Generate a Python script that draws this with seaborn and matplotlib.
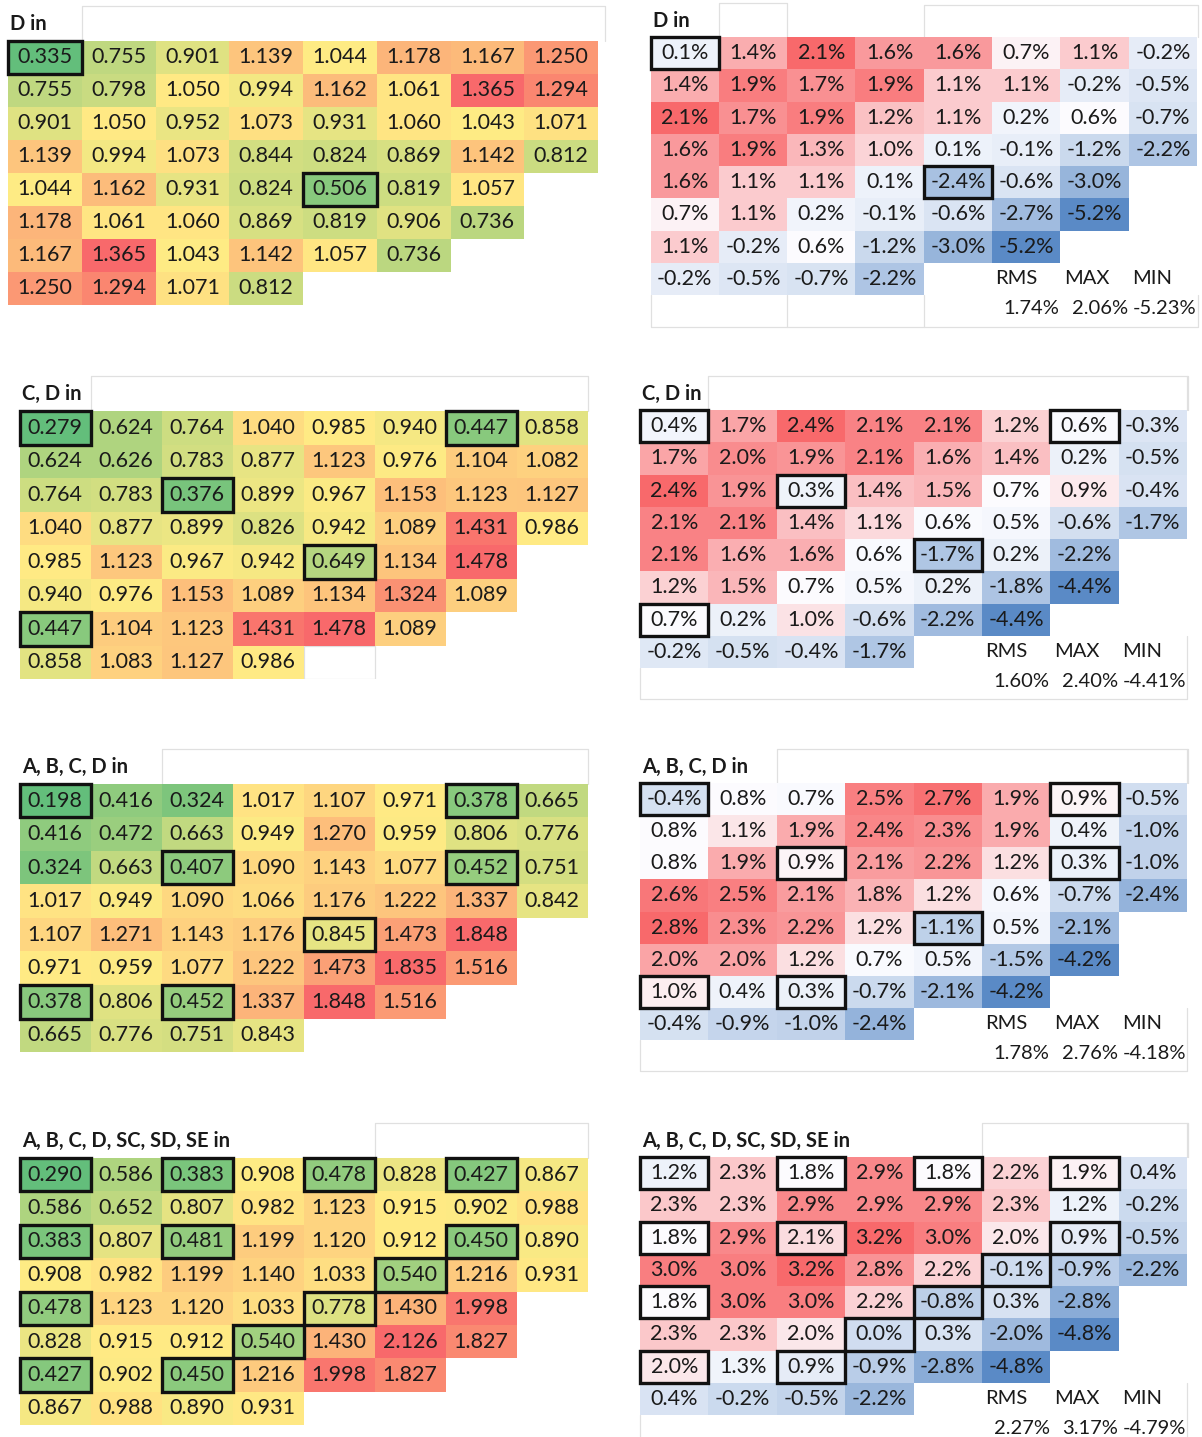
import numpy as np
import matplotlib
matplotlib.use("Agg")
import matplotlib.pyplot as plt
from matplotlib.colors import LinearSegmentedColormap, TwoSlopeNorm
from matplotlib.patches import Rectangle
import seaborn as sns

sns.set_theme(style="white")
plt.rcParams['font.family'] = ['Lato', 'DejaVu Sans']

# ---------------------------------------------------------------------------
# Relative power maps (left column) - one list per row, lower-right corner empty
# ---------------------------------------------------------------------------
power_d = [
    [0.335, 0.755, 0.901, 1.139, 1.044, 1.178, 1.167, 1.250],
    [0.755, 0.798, 1.050, 0.994, 1.162, 1.061, 1.365, 1.294],
    [0.901, 1.050, 0.952, 1.073, 0.931, 1.060, 1.043, 1.071],
    [1.139, 0.994, 1.073, 0.844, 0.824, 0.869, 1.142, 0.812],
    [1.044, 1.162, 0.931, 0.824, 0.506, 0.819, 1.057],
    [1.178, 1.061, 1.060, 0.869, 0.819, 0.906, 0.736],
    [1.167, 1.365, 1.043, 1.142, 1.057, 0.736],
    [1.250, 1.294, 1.071, 0.812],
]
power_cd = [
    [0.279, 0.624, 0.764, 1.040, 0.985, 0.940, 0.447, 0.858],
    [0.624, 0.626, 0.783, 0.877, 1.123, 0.976, 1.104, 1.082],
    [0.764, 0.783, 0.376, 0.899, 0.967, 1.153, 1.123, 1.127],
    [1.040, 0.877, 0.899, 0.826, 0.942, 1.089, 1.431, 0.986],
    [0.985, 1.123, 0.967, 0.942, 0.649, 1.134, 1.478],
    [0.940, 0.976, 1.153, 1.089, 1.134, 1.324, 1.089],
    [0.447, 1.104, 1.123, 1.431, 1.478, 1.089],
    [0.858, 1.083, 1.127, 0.986],
]
power_abcd = [
    [0.198, 0.416, 0.324, 1.017, 1.107, 0.971, 0.378, 0.665],
    [0.416, 0.472, 0.663, 0.949, 1.270, 0.959, 0.806, 0.776],
    [0.324, 0.663, 0.407, 1.090, 1.143, 1.077, 0.452, 0.751],
    [1.017, 0.949, 1.090, 1.066, 1.176, 1.222, 1.337, 0.842],
    [1.107, 1.271, 1.143, 1.176, 0.845, 1.473, 1.848],
    [0.971, 0.959, 1.077, 1.222, 1.473, 1.835, 1.516],
    [0.378, 0.806, 0.452, 1.337, 1.848, 1.516],
    [0.665, 0.776, 0.751, 0.843],
]
power_all = [
    [0.290, 0.586, 0.383, 0.908, 0.478, 0.828, 0.427, 0.867],
    [0.586, 0.652, 0.807, 0.982, 1.123, 0.915, 0.902, 0.988],
    [0.383, 0.807, 0.481, 1.199, 1.120, 0.912, 0.450, 0.890],
    [0.908, 0.982, 1.199, 1.140, 1.033, 0.540, 1.216, 0.931],
    [0.478, 1.123, 1.120, 1.033, 0.778, 1.430, 1.998],
    [0.828, 0.915, 0.912, 0.540, 1.430, 2.126, 1.827],
    [0.427, 0.902, 0.450, 1.216, 1.998, 1.827],
    [0.867, 0.988, 0.890, 0.931],
]

# ---------------------------------------------------------------------------
# Relative differences in percent (right column)
# ---------------------------------------------------------------------------
diff_d = [
    [0.1, 1.4, 2.1, 1.6, 1.6, 0.7, 1.1, -0.2],
    [1.4, 1.9, 1.7, 1.9, 1.1, 1.1, -0.2, -0.5],
    [2.1, 1.7, 1.9, 1.2, 1.1, 0.2, 0.6, -0.7],
    [1.6, 1.9, 1.3, 1.0, 0.1, -0.1, -1.2, -2.2],
    [1.6, 1.1, 1.1, 0.1, -2.4, -0.6, -3.0],
    [0.7, 1.1, 0.2, -0.1, -0.6, -2.7, -5.2],
    [1.1, -0.2, 0.6, -1.2, -3.0, -5.2],
    [-0.2, -0.5, -0.7, -2.2],
]
diff_cd = [
    [0.4, 1.7, 2.4, 2.1, 2.1, 1.2, 0.6, -0.3],
    [1.7, 2.0, 1.9, 2.1, 1.6, 1.4, 0.2, -0.5],
    [2.4, 1.9, 0.3, 1.4, 1.5, 0.7, 0.9, -0.4],
    [2.1, 2.1, 1.4, 1.1, 0.6, 0.5, -0.6, -1.7],
    [2.1, 1.6, 1.6, 0.6, -1.7, 0.2, -2.2],
    [1.2, 1.5, 0.7, 0.5, 0.2, -1.8, -4.4],
    [0.7, 0.2, 1.0, -0.6, -2.2, -4.4],
    [-0.2, -0.5, -0.4, -1.7],
]
diff_abcd = [
    [-0.4, 0.8, 0.7, 2.5, 2.7, 1.9, 0.9, -0.5],
    [0.8, 1.1, 1.9, 2.4, 2.3, 1.9, 0.4, -1.0],
    [0.8, 1.9, 0.9, 2.1, 2.2, 1.2, 0.3, -1.0],
    [2.6, 2.5, 2.1, 1.8, 1.2, 0.6, -0.7, -2.4],
    [2.8, 2.3, 2.2, 1.2, -1.1, 0.5, -2.1],
    [2.0, 2.0, 1.2, 0.7, 0.5, -1.5, -4.2],
    [1.0, 0.4, 0.3, -0.7, -2.1, -4.2],
    [-0.4, -0.9, -1.0, -2.4],
]
diff_all = [
    [1.2, 2.3, 1.8, 2.9, 1.8, 2.2, 1.9, 0.4],
    [2.3, 2.3, 2.9, 2.9, 2.9, 2.3, 1.2, -0.2],
    [1.8, 2.9, 2.1, 3.2, 3.0, 2.0, 0.9, -0.5],
    [3.0, 3.0, 3.2, 2.8, 2.2, -0.1, -0.9, -2.2],
    [1.8, 3.0, 3.0, 2.2, -0.8, 0.3, -2.8],
    [2.3, 2.3, 2.0, 0.0, 0.3, -2.0, -4.8],
    [2.0, 1.3, 0.9, -0.9, -2.8, -4.8],
    [0.4, -0.2, -0.5, -2.2],
]

# Summary statistics for each difference map: RMS, MAX, MIN (percent)
stat_names = ["RMS", "MAX", "MIN"]
stats_d = [1.74, 2.06, -5.23]
stats_cd = [1.60, 2.40, -4.41]
stats_abcd = [1.78, 2.76, -4.18]
stats_all = [2.27, 3.17, -4.79]

# Panel titles
titles = ["D in", "C, D in", "A, B, C, D in", "A, B, C, D, SC, SD, SE in"]

# Highlighted (row, col) positions for each configuration
marked_d = [(0, 0), (4, 4)]
marked_cd = [(0, 0), (0, 6), (2, 2), (4, 4), (6, 0)]
marked_abcd = [(0, 0), (0, 6), (2, 2), (2, 6), (4, 4), (6, 0), (6, 2)]
marked_all = [(0, 0), (0, 2), (0, 4), (0, 6), (2, 0), (2, 2), (2, 6), (3, 5),
              (4, 0), (4, 4), (5, 3), (6, 0), (6, 2)]

# ---------------------------------------------------------------------------
W, H = 1202, 1437
fig = plt.figure(figsize=(W / 100, H / 100), dpi=100)
fig.patch.set_facecolor("white")

cmap_power = LinearSegmentedColormap.from_list("gyr", ["#63BE7B", "#FFEB84", "#F8696B"])
cmap_diff = LinearSegmentedColormap.from_list("bwr_xl", ["#5A8AC6", "#FCFCFF", "#F8696B"])

TEXT = "#1A1A1A"
FAINT = "#E0E0E0"
CELL_FS = 15.5
STAT_FS = 14.5
TITLE_FS = 14.5


def to_matrix(rows):
    m = np.full((8, 8), np.nan)
    for i, r in enumerate(rows):
        m[i, :len(r)] = r
    return m


def faint(ax, xs, ys):
    ax.plot(xs, ys, color=FAINT, lw=0.9, clip_on=False, zorder=0.5)


def draw_panel(box, rows, kind, title, marked, stats=None, header=(1, 8),
               extra=()):
    x0, y0, x1, y1 = box
    ax = fig.add_axes([x0 / W, 1 - y1 / H, (x1 - x0) / W, (y1 - y0) / H])
    data = to_matrix(rows)
    mask = np.isnan(data)
    vals = data[~mask]
    norm = TwoSlopeNorm(vmin=vals.min(), vcenter=np.median(vals), vmax=vals.max())
    if kind == "power":
        cmap = cmap_power
        labels = np.array([[("" if np.isnan(v) else f"{v:.3f}") for v in r] for r in data])
    else:
        cmap = cmap_diff
        labels = np.array([[("" if np.isnan(v) else f"{v:.1f}%") for v in r] for r in data])
    sns.heatmap(data, mask=mask, cmap=cmap, norm=norm, annot=labels, fmt="",
                cbar=False, xticklabels=False, yticklabels=False, linewidths=0,
                annot_kws=dict(color=TEXT, fontsize=CELL_FS), ax=ax)
    ax.set_xlim(0, 8)
    ax.set_ylim(8, 0)
    ax.set_axis_off()

    # faint sheet borders around the header row
    hs, he = header
    faint(ax, [hs, hs, he, he], [0, -1.05, -1.05, 0])
    for seg in extra:
        faint(ax, *seg)

    ax.text(0.03, -0.5, title, ha="left", va="center", fontsize=TITLE_FS,
            fontweight="bold", color=TEXT, clip_on=False)

    for (r, c) in marked:
        ax.add_patch(Rectangle((c, r), 1, 1, fill=False, ec="#111111", lw=2.4,
                               clip_on=False, zorder=5))

    if stats is not None:
        for k, (name, val) in enumerate(zip(stat_names, stats)):
            ax.text(5 + k + 0.05, 7.5, name, ha="left", va="center",
                    fontsize=STAT_FS, color=TEXT, clip_on=False)
            ax.text(6 + k - 0.01, 8.42, f"{val:.2f}%", ha="right", va="center",
                    fontsize=STAT_FS, color=TEXT, clip_on=False)
    return ax


bottom_frame = [([0, 0, 8, 8], [8, 8.95, 8.95, 7]), ([8, 8], [-1.05, 0])]

# Left column: relative power
draw_panel((8, 40.5, 598, 304.5), power_d, "power", titles[0], marked_d, header=(1, 8.1))
ax3 = draw_panel((19.5, 411, 587.5, 679), power_cd, "power", titles[1], marked_cd, header=(1, 8))
ax3.add_patch(Rectangle((4, 7), 1, 1, fill=False, ec=FAINT, lw=0.9, zorder=0.5))
draw_panel((19.5, 784, 587.5, 1052), power_abcd, "power", titles[2], marked_abcd, header=(2, 8))
draw_panel((19.5, 1158, 587.5, 1425), power_all, "power", titles[3], marked_all, header=(5, 8))

# Right column: differences with summary statistics
draw_panel((650.5, 37, 1197, 295), diff_d, "diff", titles[0], marked_d, stats_d,
           header=(1, 2),
           extra=[([4, 4, 8.02, 8.02], [0, -1.0, -1.0, 0]),
                  ([0, 0, 8.02, 8.02], [8, 9.0, 9.0, 8]),
                  ([2, 2], [8, 9.0]), ([4, 4], [8, 9.0])])
draw_panel((640, 410, 1187, 668), diff_cd, "diff", titles[1], marked_cd, stats_cd,
           header=(1, 8.02), extra=bottom_frame)
draw_panel((640, 783, 1187, 1040), diff_abcd, "diff", titles[2], marked_abcd, stats_abcd,
           header=(2, 8.02), extra=bottom_frame)
draw_panel((640, 1157, 1187, 1415), diff_all, "diff", titles[3], marked_all, stats_all,
           header=(5, 8.02), extra=bottom_frame)

fig.savefig("out.png", dpi=100, facecolor="white")
